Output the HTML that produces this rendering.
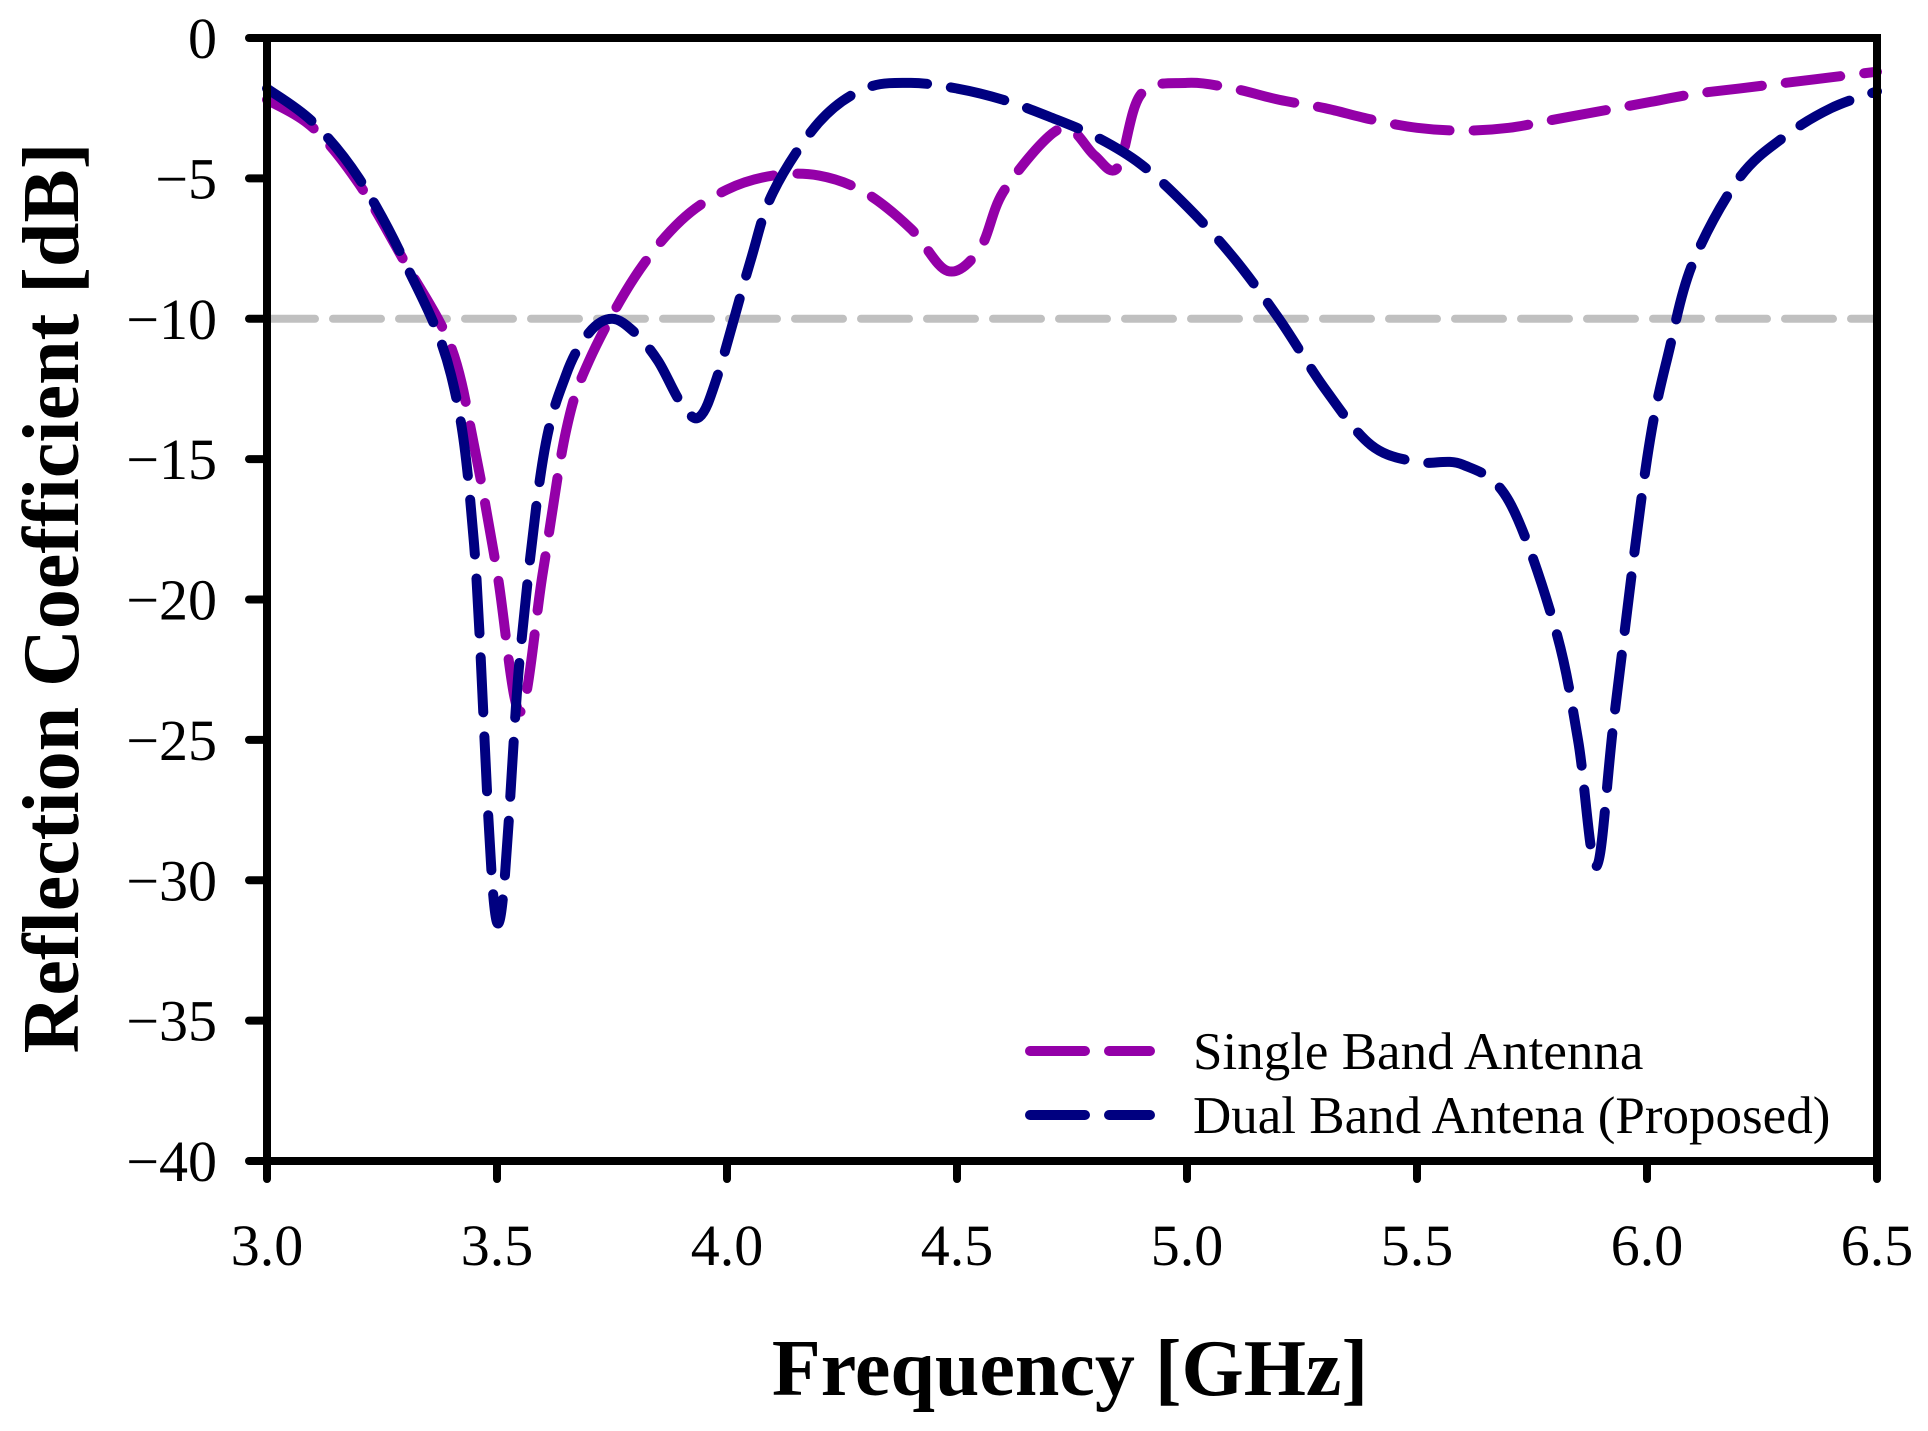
<!DOCTYPE html>
<html><head><meta charset="utf-8"><style>
body{margin:0;background:#fff}
svg text{font-family:"Liberation Serif",serif;fill:#000}
</style></head><body>
<svg id="chart" width="1928" height="1426" viewBox="0 0 1928 1426">
<g id="plot"></g>
<g>
<line x1="1030" y1="1051" x2="1150" y2="1051" stroke="#9400a8" stroke-width="10" stroke-dasharray="55 24" stroke-linecap="round"/>
<text x="1193" y="1069" font-size="53">Single Band Antenna</text>
<line x1="1030" y1="1115" x2="1150" y2="1115" stroke="#000080" stroke-width="10" stroke-dasharray="55 24" stroke-linecap="round"/>
<text x="1193" y="1133" font-size="53">Dual Band Antena (Proposed)</text>
</g>
<text x="1070" y="1395" font-size="80" font-weight="bold" text-anchor="middle">Frequency [GHz]</text>
<text transform="translate(78,598) rotate(-90)" font-size="80" font-weight="bold" text-anchor="middle">Reflection Coefficient [dB]</text>
</svg>
<script>
const freqDual=[3.0,3.1,3.2,3.3,3.4,3.45,3.5,3.55,3.6,3.65,3.7,3.75,3.8,3.85,3.9,3.94,3.98,4.05,4.1,4.2,4.3,4.4,4.5,4.6,4.7,4.8,4.9,5.0,5.1,5.2,5.3,5.4,5.5,5.6,5.7,5.8,5.85,5.89,5.93,6.0,6.05,6.1,6.2,6.3,6.4,6.5];
const dualBand=[-1.8,-3,-5,-8,-12,-18,-31.5,-22,-15,-12,-10.5,-10,-10.5,-11.5,-13,-13.5,-12,-8,-5.5,-3,-1.8,-1.6,-1.8,-2.2,-2.8,-3.5,-4.5,-6,-7.8,-10,-12.5,-14.5,-15.1,-15.2,-16.5,-21,-25,-29.5,-24,-15,-11,-8,-5,-3.5,-2.5,-1.9];
const freqSingle=[3.0,3.1,3.2,3.3,3.4,3.45,3.5,3.55,3.6,3.65,3.7,3.8,3.9,4.0,4.1,4.2,4.3,4.4,4.48,4.55,4.6,4.7,4.75,4.8,4.85,4.9,5.0,5.1,5.2,5.3,5.4,5.5,5.6,5.7,5.8,5.9,6.0,6.1,6.2,6.3,6.4,6.5];
const singleBand=[-2.2,-3.2,-5.2,-8,-11,-14.5,-19,-24,-19,-14,-11.5,-8.5,-6.5,-5.4,-4.9,-4.9,-5.5,-6.8,-8.3,-7.5,-5.5,-3.5,-3.3,-4.2,-4.6,-2,-1.6,-1.8,-2.2,-2.5,-2.9,-3.2,-3.3,-3.2,-2.9,-2.6,-2.3,-2,-1.8,-1.6,-1.4,-1.2];
const xTicks=[3.0,3.5,4.0,4.5,5.0,5.5,6.0,6.5];
const yTicks=[0,-5,-10,-15,-20,-25,-30,-35,-40];
const threshold=-10;

const X0=267,X1=1877,Y0=38,Y1=1161;
const xs=f=>X0+(f-3)/(3.5)*(X1-X0);
const ys=v=>Y0+(0-v)/40*(Y1-Y0);
const NS='http://www.w3.org/2000/svg';
const g=document.getElementById('plot');
function mk(t,a){const e=document.createElementNS(NS,t);for(const k in a)e.setAttribute(k,a[k]);g.appendChild(e);return e;}
function smooth(fx,vy){const p=fx.map((f,i)=>[xs(f),ys(vy[i])]);let d='M'+p[0][0]+','+p[0][1];
for(let i=0;i<p.length-1;i++){const a=p[Math.max(0,i-1)],b=p[i],c=p[i+1],e=p[Math.min(p.length-1,i+2)];
d+=' C'+(b[0]+(c[0]-a[0])/6)+','+(b[1]+(c[1]-a[1])/6)+' '+(c[0]-(e[0]-b[0])/6)+','+(c[1]-(e[1]-b[1])/6)+' '+c[0]+','+c[1];}return d;}

let el;
el=mk('line',{x1:X0,x2:X1,y1:ys(threshold),y2:ys(threshold),stroke:'#c0c0c0','stroke-width':8,'stroke-dasharray':'48 18','stroke-linecap':'round'});


el=mk('path',{d:smooth(freqSingle,singleBand),fill:'none',stroke:'#9400a8','stroke-width':10,'stroke-dasharray':'55 24','stroke-linecap':'round'});


el=mk('path',{d:smooth(freqDual,dualBand),fill:'none',stroke:'#000080','stroke-width':10,'stroke-dasharray':'55 24','stroke-linecap':'round'});



el=mk('rect',{x:X0,y:Y0,width:X1-X0,height:Y1-Y0,fill:'none',stroke:'#000','stroke-width':8});


xTicks.forEach(t=>{
 el=mk('line',{x1:xs(t),x2:xs(t),y1:Y1,y2:Y1+18,stroke:'#000','stroke-width':8,'stroke-linecap':'round'});
 
 
 el=mk('text',{x:xs(t),y:1265,'font-size':58,'text-anchor':'middle'});el.textContent=t.toFixed(1);
 
 
});
yTicks.forEach(t=>{
 el=mk('line',{x1:X0-18,x2:X0,y1:ys(t),y2:ys(t),stroke:'#000','stroke-width':8,'stroke-linecap':'round'});
 
 
 el=mk('text',{x:217,y:ys(t)+20,'font-size':58,'text-anchor':'end'});el.textContent=t<0?'\u2212'+(-t):String(t);
 
 
});
</script>
</body></html>
